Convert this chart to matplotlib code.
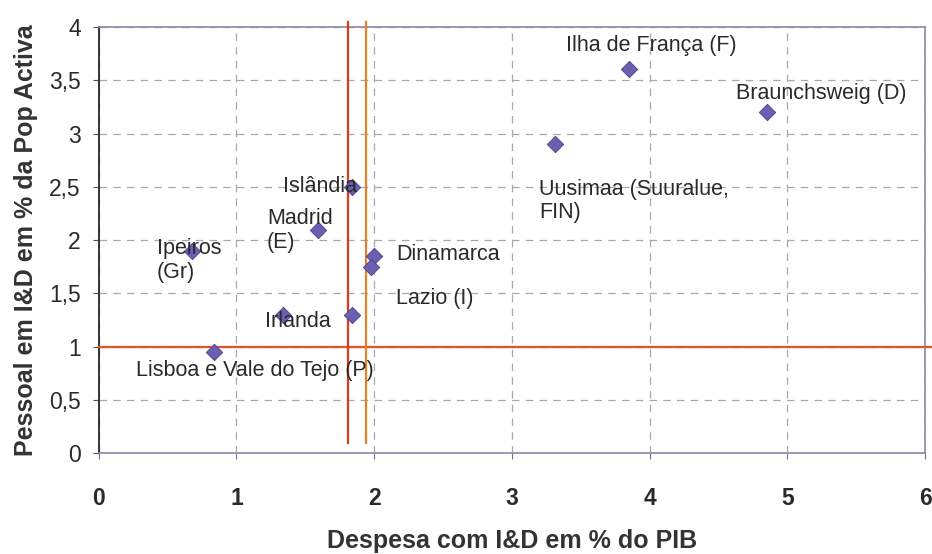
import matplotlib
matplotlib.use('Agg')
import matplotlib.pyplot as plt

# data
despesa = [0.68, 0.84, 1.34, 1.59, 1.84, 1.84, 2.00, 1.98, 3.31, 3.85, 4.85]
pessoal = [1.90, 0.95, 1.30, 2.10, 2.50, 1.30, 1.85, 1.75, 2.90, 3.61, 3.20]

labels = ['Ipeiros\n(Gr)', 'Lisboa e Vale do Tejo (P)', 'Irlanda', 'Madrid\n(E)',
          'Islândia', 'Dinamarca', 'Lazio (I)', 'Uusimaa (Suuralue,\nFIN)',
          'Ilha de França (F)', 'Braunchsweig (D)']
label_x = [0.42, 0.27, 1.21, 1.22, 1.34, 2.16, 2.16, 3.20, 3.39, 4.63]
label_y = [1.81, 0.78, 1.24, 2.09, 2.50, 1.87, 1.45, 2.37, 3.83, 3.38]

ref_x = [1.81, 1.94]
ref_y = 1.0

plt.rcParams['font.family'] = ['Liberation Sans', 'DejaVu Sans']

fig = plt.figure(figsize=(9.32, 5.54), dpi=100)
ax = fig.add_axes([0.106, 0.182, 0.8865, 0.769])

ax.scatter(despesa, pessoal, marker='D', s=70, color='#6a5fb0',
           edgecolor='#4a4190', linewidth=0.6, zorder=4)

for t, x, y in zip(labels, label_x, label_y):
    ax.text(x, y, t, fontsize=15.5, color='#2a2a2a', va='center', ha='left',
            linespacing=1.15, zorder=5)

ax.axhline(ref_y, color='#e8502a', lw=1.6, zorder=3, xmax=1.01, clip_on=False)
ax.plot([ref_x[0], ref_x[0]], [0.1, 4.05], color='#e03a1e', lw=1.6,
        zorder=3, clip_on=False)
ax.plot([ref_x[1], ref_x[1]], [0.1, 4.05], color='#e8802a', lw=1.6,
        zorder=3, clip_on=False)

ax.set_xlim(0, 6)
ax.set_ylim(0, 4)
ax.set_xticks(range(0, 7))
ax.set_yticks([0, 0.5, 1, 1.5, 2, 2.5, 3, 3.5, 4])
ax.set_yticklabels(['0', '0,5', '1', '1,5', '2', '2,5', '3', '3,5', '4'])
ax.grid(True, ls=(0, (6, 5)), color='#a8a8a8', lw=0.9)
ax.set_axisbelow(True)

ax.tick_params(axis='x', labelsize=16.5, pad=20, length=4, color='#707090',
               labelcolor='#2a2a2a')
ax.tick_params(axis='y', labelsize=16.5, pad=9, length=4, color='#505050',
               labelcolor='#2a2a2a')
for lab in ax.get_xticklabels():
    lab.set_fontweight('bold')

ax.spines['left'].set_color('#333333')
ax.spines['left'].set_linewidth(1.4)
for s in ['top', 'right', 'bottom']:
    ax.spines[s].set_color('#8a8aa8')
    ax.spines[s].set_linewidth(1.2)

ax.set_xlabel('Despesa com I&D em % do PIB', fontsize=18, fontweight='bold',
              color='#333333', labelpad=14)
ax.set_ylabel('Pessoal em I&D em % da Pop Activa', fontsize=18,
              fontweight='bold', color='#333333', labelpad=8)

fig.savefig('out.png', dpi=100)
